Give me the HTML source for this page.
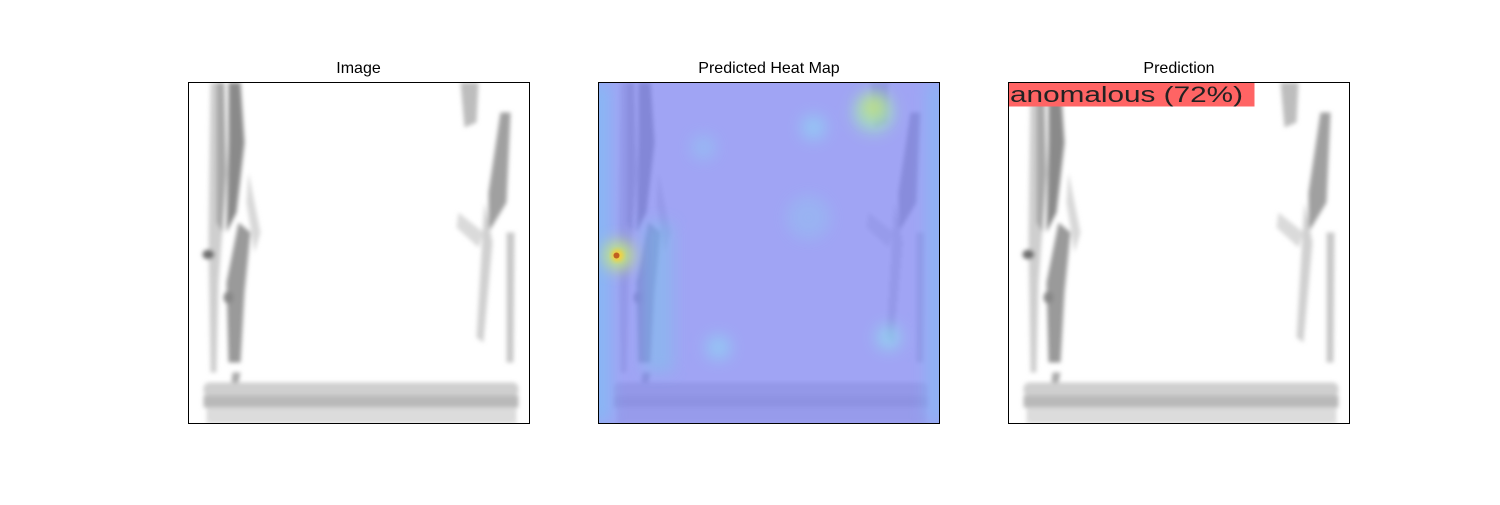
<!DOCTYPE html>
<html><head><meta charset="utf-8"><style>
body{margin:0;background:#fff;width:1500px;height:500px;overflow:hidden;font-family:"Liberation Sans","DejaVu Sans",sans-serif}
</style></head><body>
<svg width="1500" height="500" viewBox="0 0 1500 500" xmlns="http://www.w3.org/2000/svg">
<defs>
<filter id="bl" x="-20%" y="-20%" width="140%" height="140%"><feGaussianBlur stdDeviation="2"/></filter>
<filter id="bl8" x="-50%" y="-50%" width="200%" height="200%"><feGaussianBlur stdDeviation="8"/></filter>
<clipPath id="clip"><rect x="0" y="0" width="341" height="341"/></clipPath>
<g id="bottle">
  <rect x="0" y="0" width="341" height="341" fill="#fff"/>
  <g filter="url(#bl)">
    <path d="M22 0 L32 0 L36 120 L30 200 L28 290 L22 290 L20 160 Z" fill="#cfcfcf"/>
    <path d="M40 0 L52 0 L56 60 L48 130 L38 150 L40 60 Z" fill="#8a8a8a"/>
    <path d="M28 0 L36 0 L38 90 L34 150 L28 140 Z" fill="#a8a8a8"/>
    <path d="M50 140 L62 150 L56 210 L52 280 L40 280 L38 200 Z" fill="#9a9a9a"/>
    <path d="M60 90 L72 150 L66 170 L58 120 Z" fill="#d8d8d8"/>
    <ellipse cx="20" cy="172" rx="6" ry="5" fill="#707070"/>
    <ellipse cx="40" cy="215" rx="5" ry="6" fill="#888"/>
    <path d="M44 290 L52 290 L48 310 L42 310 Z" fill="#aaa"/>
    <path d="M272 0 L290 0 L288 40 L276 45 Z" fill="#bdbdbd"/>
    <path d="M312 30 L322 30 L318 120 L300 150 L300 110 Z" fill="#a0a0a0"/>
    <path d="M296 120 L304 160 L295 260 L288 255 Z" fill="#d0d0d0"/>
    <path d="M318 150 L326 150 L325 280 L318 280 Z" fill="#c8c8c8"/>
    <path d="M270 130 L295 150 L290 165 L268 145 Z" fill="#dadada"/>
    <rect x="15" y="300" width="315" height="14" rx="6" fill="#cfcfcf"/>
    <rect x="15" y="313" width="315" height="12" fill="#b9b9b9"/>
    <rect x="18" y="325" width="310" height="16" fill="#dcdcdc"/>
  </g>
</g>
</defs>

<g>
  <text x="358.5" y="73" font-size="16" text-anchor="middle" fill="#000">Image</text>
  <g transform="translate(188.5 82.5)" clip-path="url(#clip)"><use href="#bottle"/></g>
  <rect x="188.5" y="82.5" width="341" height="341" fill="none" stroke="#000" stroke-width="1"/>
</g>

<g>
  <text x="769" y="73" font-size="16" text-anchor="middle" fill="#000">Predicted Heat Map</text>
  <g transform="translate(598.5 82.5)" clip-path="url(#clip)">
    <use href="#bottle"/>
    <rect width="341" height="341" fill="#8086f0" opacity="0.75"/>
    <g filter="url(#bl8)" opacity="0.75">
      <rect x="-10" y="0" width="22" height="341" fill="#7fbef5"/>
      <rect x="45" y="140" width="30" height="150" fill="#70d0e8" opacity="0.5"/>
      <circle cx="105" cy="65" r="12" fill="#8fcff2" opacity="0.7"/>
      <circle cx="215" cy="45" r="12" fill="#8fd6f4"/>
      <circle cx="210" cy="135" r="22" fill="#8fccf0" opacity="0.5"/>
      <circle cx="120" cy="265" r="12" fill="#8fd6f4"/>
      <circle cx="290" cy="255" r="12" fill="#8fe0ee"/>
      <circle cx="275" cy="30" r="20" fill="#9ee6c0"/>
      <rect x="328" y="0" width="20" height="341" fill="#86b8f4"/>
    </g>
    <g filter="url(#bl8)">
      <circle cx="20" cy="173" r="14" fill="#c8f070"/>
      <circle cx="275" cy="25" r="10" fill="#c8e070"/>
    </g>
    <circle cx="19" cy="173" r="6" fill="#f5d040" filter="url(#bl)"/>
    <circle cx="18" cy="173" r="3" fill="#c06020"/>
  </g>
  <rect x="598.5" y="82.5" width="341" height="341" fill="none" stroke="#000" stroke-width="1"/>
</g>

<g>
  <text x="1179" y="73" font-size="16" text-anchor="middle" fill="#000">Prediction</text>
  <g transform="translate(1008.5 82.5)" clip-path="url(#clip)"><use href="#bottle"/></g>
  <rect x="1008.5" y="82.5" width="246" height="24" fill="#ff6464"/>
  <text x="1010" y="102" font-size="22" font-family="'Liberation Sans',sans-serif" fill="#222" textLength="233" lengthAdjust="spacingAndGlyphs">anomalous (72%)</text>
  <rect x="1008.5" y="82.5" width="341" height="341" fill="none" stroke="#000" stroke-width="1"/>
</g>
</svg>
</body></html>
